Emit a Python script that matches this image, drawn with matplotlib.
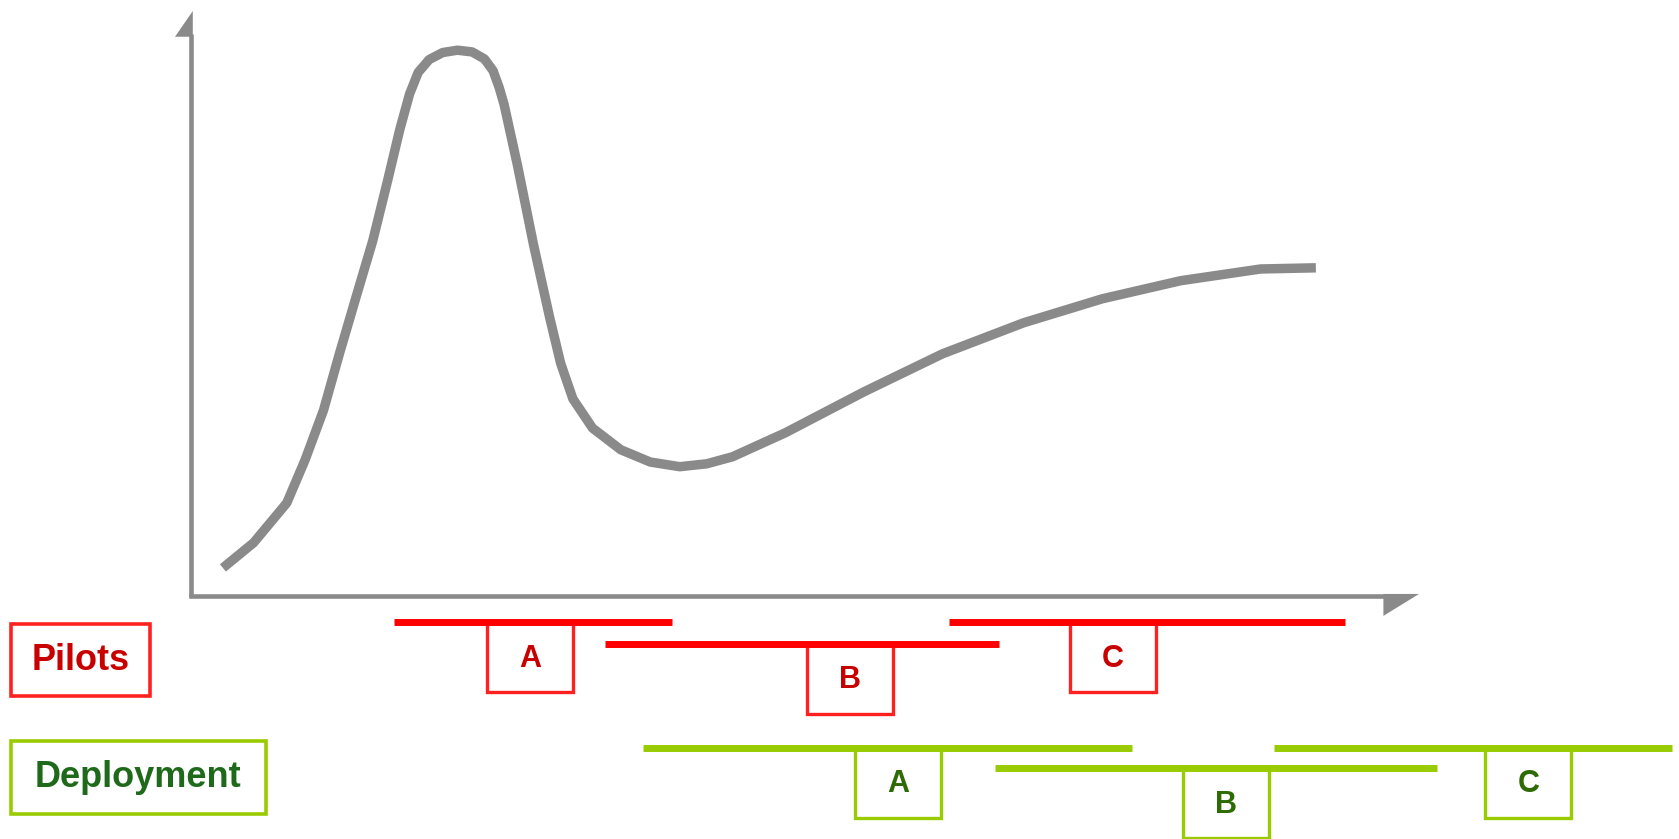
import matplotlib.pyplot as plt
from matplotlib.patches import Rectangle, Polygon

# hype curve (time 0-100, expectations 0-100)
curve_t = [2.6, 5.1, 7.8, 9.3, 10.8, 12.1, 13.5, 14.8, 16.0, 17.0, 17.8, 18.5,
           19.4, 20.5, 21.7, 22.9, 23.9, 24.6, 25.1, 25.5, 26.6, 27.9, 29.2,
           30.1, 31.1, 32.7, 35.0, 37.4, 39.8, 42.0, 44.1, 48.4, 54.8, 61.2,
           67.8, 74.2, 80.6, 87.1, 91.6]
curve_v = [4.8, 9.1, 15.9, 23.3, 31.8, 41.5, 51.5, 60.7, 70.9, 79.7, 85.8, 89.5,
           91.7, 92.9, 93.3, 93.0, 91.8, 89.8, 86.9, 84.0, 73.5, 60.0, 47.7,
           39.8, 33.7, 28.7, 25.0, 22.9, 22.1, 22.6, 23.8, 27.9, 34.9, 41.4,
           46.7, 50.8, 53.9, 55.9, 56.1]

phases = ["A", "B", "C"]
pilot_start = [16.5, 33.7, 61.7]
pilot_end = [39.2, 65.8, 94.0]
pilot_mid = [27.6, 53.7, 75.1]
deploy_start = [36.8, 65.5, 88.2]
deploy_end = [76.6, 101.5, 120.6]
deploy_mid = [57.6, 84.3, 108.9]

GREY = "#8a8a8a"
RED = "#ff0000"
DARK_RED = "#c80000"
LIME = "#99cc00"
DARK_GREEN = "#1f6a1a"

fig = plt.figure(figsize=(16.79, 8.39), dpi=100)
ax = fig.add_axes([0, 0, 1, 1])
ax.set_xlim(-15.55, 121.17)
ax.set_ylim(-41.54, 101.88)
ax.axis("off")

# axes with arrow heads
ax.plot([0, 0], [0, 96], color=GREY, lw=3.3, solid_capstyle="butt")
ax.plot([0, 97.5], [0, 0], color=GREY, lw=3.3, solid_capstyle="projecting")
ax.add_patch(Polygon([(0.15, 100), (-1.3, 95.6), (0.15, 95.6)], closed=True,
                     color=GREY, lw=0))
ax.add_patch(Polygon([(97.1, 0.35), (100, 0.35), (97.1, -3.4)], closed=True,
                     color=GREY, lw=0))

ax.plot(curve_t, curve_v, color=GREY, lw=6.8, solid_joinstyle="round",
        solid_capstyle="butt")


def draw_row(starts, ends, mids, levels, line_col, edge_col, text_col):
    box_w, box_h = 7.0, 12.0
    for s, e, m, y, lab in zip(starts, ends, mids, levels, phases):
        ax.plot([s, e], [y, y], color=line_col, lw=5, solid_capstyle="butt",
                zorder=3)
        ax.add_patch(Rectangle((m - box_w / 2, y - box_h), box_w, box_h,
                               fill=False, edgecolor=edge_col, lw=2.4, zorder=2))
        ax.text(m, y - box_h / 2 - 0.3, lab, ha="center", va="center",
                color=text_col, fontsize=22, fontweight="bold",
                family="Liberation Sans")


draw_row(pilot_start, pilot_end, pilot_mid, [-4.46, -8.13, -4.46],
         RED, "#ff2020", DARK_RED)
draw_row(deploy_start, deploy_end, deploy_mid, [-25.9, -29.4, -25.9],
         LIME, LIME, "#2f6b05")

# row labels
ax.add_patch(Rectangle((-14.68, -17.1), 11.33, 12.26, fill=False,
                       edgecolor="#ff2020", lw=2.6))
ax.text(-9.0, -11.1, "Pilots", ha="center", va="center", color=DARK_RED,
        fontsize=26, fontweight="bold", family="Liberation Sans")
ax.add_patch(Rectangle((-14.68, -37.2), 20.75, 12.4, fill=False,
                       edgecolor=LIME, lw=2.6))
ax.text(-4.3, -31.1, "Deployment", ha="center", va="center", color=DARK_GREEN,
        fontsize=26, fontweight="bold", family="Liberation Sans")

fig.savefig("out.png", dpi=100)
